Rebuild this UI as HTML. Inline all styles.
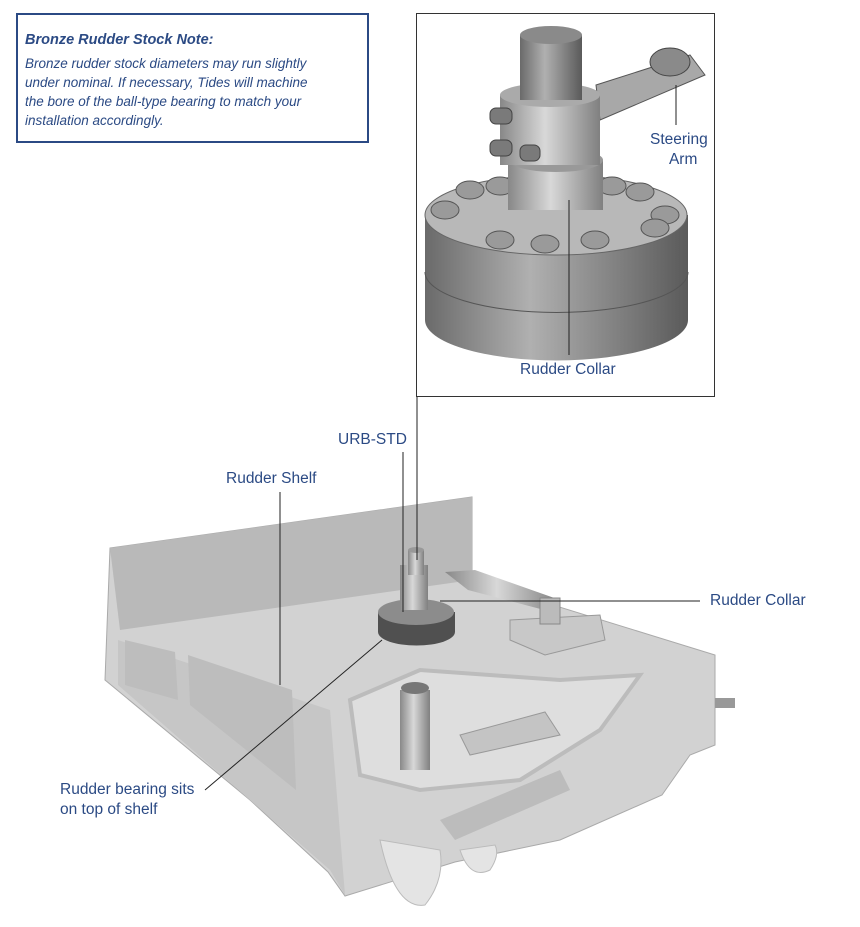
<!DOCTYPE html>
<html><head><meta charset="utf-8"><style>
html,body{margin:0;padding:0;background:#fff;}
body{width:860px;height:927px;position:relative;overflow:hidden;font-family:"Liberation Sans",sans-serif;}
.note{position:absolute;left:16px;top:13px;width:353px;height:130px;border:2px solid #2b4a84;box-sizing:border-box;color:#2b4a84;font-style:italic;font-size:13.5px;line-height:19px;padding:16px 0 0 7px;white-space:nowrap;}
.note b{display:block;font-size:14.5px;margin-bottom:4px;}
.lbl{position:absolute;color:#2b4a84;font-size:15.5px;line-height:20px;white-space:nowrap;}
</style></head><body>
<svg width="860" height="927" style="position:absolute;left:0;top:0">
<defs>
<linearGradient id="cyl" x1="0" x2="1"><stop offset="0" stop-color="#6a6a6a"/><stop offset=".4" stop-color="#b0b0b0"/><stop offset="1" stop-color="#5a5a5a"/></linearGradient>
<linearGradient id="cyl2" x1="0" x2="1"><stop offset="0" stop-color="#888"/><stop offset=".45" stop-color="#d8d8d8"/><stop offset="1" stop-color="#808080"/></linearGradient>
</defs>
<rect x="416.5" y="13.5" width="298" height="383" fill="#fff" stroke="#333" stroke-width="1"/>
<path d="M425,215 L425,320 A130,40 0 0 0 688,320 L688,215 Z" fill="url(#cyl)"/>
<path d="M425,272 A130,40 0 0 0 688,272" fill="none" stroke="#555"/>
<ellipse cx="556" cy="215" rx="131" ry="40" fill="#b8b8b8" stroke="#666"/>
<g fill="#9a9a9a" stroke="#555">
<ellipse cx="445" cy="210" rx="14" ry="9"/><ellipse cx="470" cy="190" rx="14" ry="9"/><ellipse cx="500" cy="186" rx="14" ry="9"/>
<ellipse cx="612" cy="186" rx="14" ry="9"/><ellipse cx="640" cy="192" rx="14" ry="9"/><ellipse cx="665" cy="215" rx="14" ry="9"/>
<ellipse cx="500" cy="240" rx="14" ry="9"/><ellipse cx="545" cy="244" rx="14" ry="9"/><ellipse cx="595" cy="240" rx="14" ry="9"/><ellipse cx="655" cy="228" rx="14" ry="9"/>
</g>
<path d="M596,85 L690,55 L705,75 L600,120 Z" fill="#a8a8a8" stroke="#555"/>
<ellipse cx="670" cy="62" rx="20" ry="14" fill="#8a8a8a" stroke="#444"/>
<rect x="508" y="160" width="95" height="50" fill="url(#cyl2)"/>
<ellipse cx="556" cy="160" rx="47" ry="12" fill="#999"/>
<rect x="500" y="95" width="100" height="70" fill="url(#cyl2)"/>
<ellipse cx="550" cy="95" rx="50" ry="12" fill="#aaa"/>
<rect x="520" y="35" width="62" height="65" fill="url(#cyl)"/>
<ellipse cx="551" cy="35" rx="31" ry="9" fill="#8a8a8a"/>
<g fill="#7a7a7a" stroke="#444"><rect x="490" y="108" width="22" height="16" rx="6"/><rect x="490" y="140" width="22" height="16" rx="6"/><rect x="520" y="145" width="20" height="16" rx="6"/></g>
<path d="M110,548 L472,497 L472,580 L715,655 L715,745 L690,755 L662,795 L560,840 L455,862 L345,896 L328,872 L250,800 L105,680 Z" fill="#d2d2d2" stroke="#aaa"/>
<path d="M110,548 L472,497 L472,580 L120,630 Z" fill="#b9b9b9"/>
<path d="M118,640 L330,710 L345,895 L330,870 L250,800 L118,685 Z" fill="#c6c6c6"/>
<path d="M125,640 L175,652 L178,700 L125,685 Z M188,655 L292,690 L296,790 L190,705 Z" fill="#bdbdbd"/>
<path d="M350,700 L420,670 L560,680 L640,675 L600,730 L520,780 L420,790 L360,775 Z" fill="#dedede" stroke="#bcbcbc" stroke-width="4"/>
<rect x="400" y="690" width="30" height="80" fill="url(#cyl2)"/>
<ellipse cx="415" cy="688" rx="14" ry="6" fill="#777"/>
<path d="M460,735 L545,712 L560,735 L470,755 Z" fill="#c4c4c4" stroke="#999"/>
<path d="M380,840 Q395,910 425,905 Q445,880 440,850 Z" fill="#e4e4e4" stroke="#bbb"/>
<path d="M460,850 Q470,880 490,870 Q500,855 495,845 Z" fill="#e4e4e4" stroke="#bbb"/>
<path d="M440,820 L560,770 L570,790 L455,840 Z" fill="#bcbcbc"/>
<rect x="715" y="698" width="20" height="10" fill="#999"/>
<path d="M510,620 L600,615 L605,640 L545,655 L510,640 Z" fill="#c8c8c8" stroke="#999"/>
<path d="M445,572 L475,570 L560,600 L552,612 L468,590 Z" fill="url(#cyl2)"/>
<rect x="540" y="598" width="20" height="26" fill="#bbb" stroke="#888"/>
<path d="M378,612 L378,632 A37,13 0 0 0 455,632 L455,612 Z" fill="#505050"/>
<ellipse cx="416" cy="612" rx="38" ry="13" fill="#8c8c8c"/>
<rect x="400" y="565" width="28" height="45" fill="url(#cyl2)"/>
<rect x="408" y="550" width="16" height="25" fill="url(#cyl2)"/>
<ellipse cx="416" cy="550" rx="8" ry="3" fill="#999"/>
<g stroke="#222" stroke-width="1" fill="none">
<line x1="569" y1="200" x2="569" y2="355"/>
<line x1="676" y1="85" x2="676" y2="125"/>
<line x1="417" y1="397" x2="417" y2="560"/>
<line x1="403" y1="452" x2="403" y2="612"/>
<line x1="280" y1="492" x2="280" y2="685"/>
<line x1="440" y1="601" x2="700" y2="601"/>
<line x1="382" y1="640" x2="205" y2="790"/>
</g>
</svg>
<div class="note"><b>Bronze Rudder Stock Note:</b>Bronze rudder stock diameters may run slightly<br>under nominal. If necessary, Tides will machine<br>the bore of the ball-type bearing to match your<br>installation accordingly.</div>
<div class="lbl" style="left:650px;top:130px;text-align:center;">Steering<br>&nbsp;&nbsp;Arm</div>
<div class="lbl" style="left:520px;top:360px;">Rudder Collar</div>
<div class="lbl" style="left:338px;top:430px;">URB-STD</div>
<div class="lbl" style="left:226px;top:469px;">Rudder Shelf</div>
<div class="lbl" style="left:710px;top:591px;">Rudder Collar</div>
<div class="lbl" style="left:60px;top:780px;">Rudder bearing sits<br>on top of shelf</div>
</body></html>
